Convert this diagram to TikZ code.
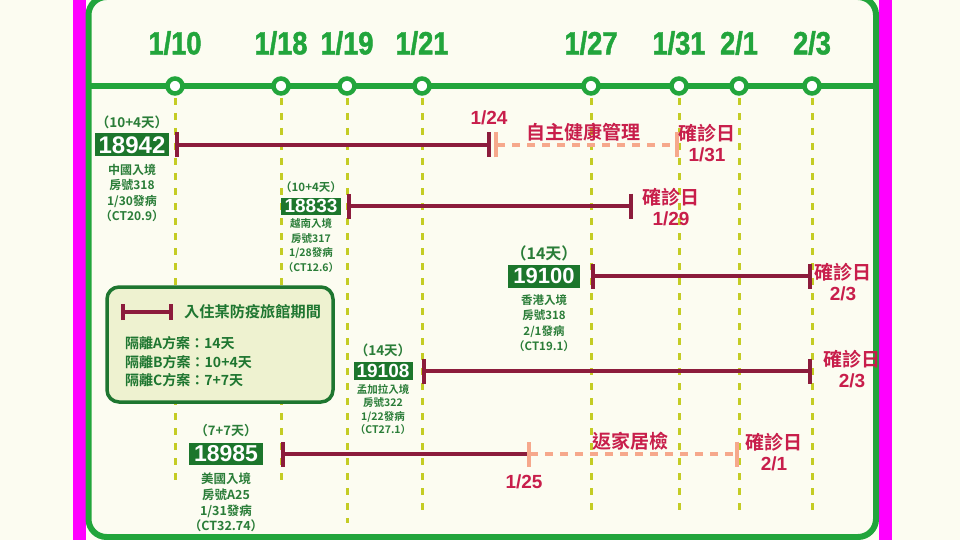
\documentclass[tikz,border=0pt]{standalone}
\usepackage{fontspec}
\setmainfont{Noto Sans CJK TC}[BoldFont={* Bold}]
\newfontfamily\numfont{Liberation Sans}
\newfontfamily\datefont{Liberation Sans}[FakeStretch=0.85,FakeBold=1.5]
\usetikzlibrary{arrows.meta,positioning}
\definecolor{cream}{RGB}{252,252,241}
\definecolor{edge}{RGB}{255,0,255}
\definecolor{tlgreen}{RGB}{34,165,60}
\definecolor{boxgreen}{RGB}{28,118,44}
\definecolor{txtgreen}{RGB}{42,125,56}
\definecolor{barred}{RGB}{140,28,60}
\definecolor{salmon}{RGB}{246,168,140}
\definecolor{crimson}{RGB}{200,30,75}
\definecolor{guideyel}{RGB}{196,204,36}
\definecolor{legfill}{RGB}{238,242,208}
\definecolor{legdraw}{RGB}{30,118,48}
\newcommand\fs[1]{\fontsize{#1}{#1}\selectfont}

\begin{document}
\begin{tikzpicture}[x=1pt,y=-1pt,
  dot/.style={circle,draw=tlgreen,fill=white,line width=4.5pt,minimum size=15pt,inner sep=0},
  datelab/.style={text=tlgreen,font=\datefont\bfseries\fs{32}},
  guide/.style={draw=guideyel,line width=3pt,dash pattern=on 7pt off 8pt},
  stay/.style={draw=barred,line width=4pt},
  home/.style={draw=salmon,line width=4pt,dash pattern=on 8pt off 7pt},
  caseid/.style={fill=boxgreen,text=white,inner sep=0,font=\numfont\bfseries\fs{#1}},
  days/.style={text=txtgreen,inner sep=0,font=\bfseries\fs{#1}},
  info/.style 2 args={text=txtgreen,align=center,inner sep=0,font=\bfseries\fontsize{#1}{#2}\selectfont},
  redlab/.style={text=crimson,align=center,inner sep=0,font=\bfseries\fontsize{#1}{21}\selectfont}]

    \fill[cream] (0,0) rectangle (960,540);
    \useasboundingbox (0,0) rectangle (960,540);
    \fill[edge] (73,-1) rectangle (85.5,541);
    \fill[edge] (879,-1) rectangle (892,541);
    \draw[tlgreen, line width=6pt, rounded corners=18pt] (88.5,-3) rectangle (876,537);

    % timeline
    \coordinate (tl-l) at (88,86);
    \coordinate (tl-r) at (876,86);
    \draw[tlgreen, line width=5.5pt] (tl-l) -- (tl-r);
    \foreach \x/\lab/\nm/\e in {175/{1/10}/0110/487, 281/{1/18}/0118/487, 347/{1/19}/0119/523,
        422/{1/21}/0121/510, 591/{1/27}/0127/510, 679/{1/31}/0131/510, 739/{2/1}/0201/510, 812/{2/3}/0203/510}
    {
        \draw[guide] (\x,98) -- (\x,\e);
        \node[dot] (d\nm) at (\x,86) {};
        \node[datelab] (t\nm) at (\x,43) {\lab};
    }
    \coordinate (d0124) at (491,86);
    \coordinate (d0125) at (527,86);
    \coordinate (d0129) at (633,86);

    % 18942
    \node[caseid=24, minimum width=74pt, minimum height=23pt] (c18942) at (132,145) {18942};
    \node[days=13.5, above=4pt of c18942] (p18942) {（10+4天）};
    \node[info={12}{15.5}, below=7pt of c18942] (i18942) {中國入境\\房號318\\1/30發病\\（CT20.9）};
    \draw[home, {Bar[width=25pt]}-{Bar[width=25pt]}] ([xshift=3pt]d0124 |- c18942) -- (d0131 |- c18942);
    \draw[stay, {Bar[width=25pt]}-{Bar[width=25pt]}] (d0110 |- c18942) -- (d0124 |- c18942);
    \node[redlab=19] (l0124) at (489,118) {\numfont 1/24};
    \node[redlab=19] (self) at (583,132) {自主健康管理};
    \node[redlab=19] (x18942) at (707,143) {確診日\\{\numfont 1/31}};

    % 18833
    \node[caseid=19, minimum width=60pt, minimum height=17pt] (c18833) at (311,206) {18833};
    \node[days=11.5, above=4pt of c18833] (p18833) {（10+4天）};
    \node[info={10.5}{14.5}, below=4pt of c18833] (i18833) {越南入境\\房號317\\1/28發病\\（CT12.6）};
    \draw[stay, {Bar[width=25pt]}-{Bar[width=25pt]}] (d0119 |- c18833) -- (d0129 |- c18833);
    \node[redlab=19] (x18833) at (671,207) {確診日\\{\numfont 1/29}};

    % 19100
    \node[caseid=22, minimum width=72pt, minimum height=23pt] (c19100) at (544,276) {19100};
    \node[days=16, above=3.5pt of c19100] (p19100) {（14天）};
    \node[info={11.5}{15.5}, below=6.5pt of c19100] (i19100) {香港入境\\房號318\\2/1發病\\（CT19.1）};
    \draw[stay, {Bar[width=25pt]}-{Bar[width=25pt]}] (d0127 |- c19100) -- (d0203 |- c19100);
    \node[redlab=19] (x19100) at (843,282) {確診日\\{\numfont 2/3}};

    % 19108
    \node[caseid=19, minimum width=59pt, minimum height=18pt] (c19108) at (383,371) {19108};
    \node[days=13.5, above=5pt of c19108] (p19108) {（14天）};
    \node[info={10.5}{13.5}, below=4pt of c19108] (i19108) {孟加拉入境\\房號322\\1/22發病\\（CT27.1）};
    \draw[stay, {Bar[width=25pt]}-{Bar[width=25pt]}] (d0121 |- c19108) -- (d0203 |- c19108);
    \node[redlab=19] (x19108) at (852,369) {確診日\\{\numfont 2/3}};

    % 18985
    \node[caseid=23, minimum width=74pt, minimum height=22pt] (c18985) at (226,454) {18985};
    \node[days=13, above=5.5pt of c18985] (p18985) {（7+7天）};
    \node[info={12.5}{15.7}, below=7.5pt of c18985] (i18985) {美國入境\\房號A25\\1/31發病\\（CT32.74）};
    \draw[stay, {Bar[width=25pt]}-] (d0118 |- c18985) -- (d0125 |- c18985);
    \draw[home, {Bar[width=25pt]}-{Bar[width=25pt]}] (d0125 |- c18985) -- (d0201 |- c18985);
    \node[redlab=19] (l0125) at (524,482) {\numfont 1/25};
    \node[redlab=19] (homeq) at (630,441) {返家居檢};
    \node[redlab=19] (x18985) at (774,452) {確診日\\{\numfont 2/1}};

    % legend
    \node[draw=legdraw, fill=legfill, line width=3.5pt, rounded corners=12pt,
          minimum width=226pt, minimum height=115pt] (legend) at (220,344.5) {};
    \coordinate (k1) at (121,312);
    \coordinate (k2) at (173,312);
    \draw[stay, {Bar[width=16pt]}-{Bar[width=16pt]}] (k1) -- (k2);
    \node[anchor=west, text=legdraw, inner sep=0, font=\bfseries\fs{15.2}] (legtitle) at (184,312) {入住某防疫旅館期間};
    \node[anchor=west, text=legdraw, inner sep=0, align=left, font=\bfseries\fontsize{14}{18.5}\selectfont]
        (legtext) at (125,362) {隔離A方案：14天\\隔離B方案：10+4天\\隔離C方案：7+7天};

\end{tikzpicture}
\end{document}
